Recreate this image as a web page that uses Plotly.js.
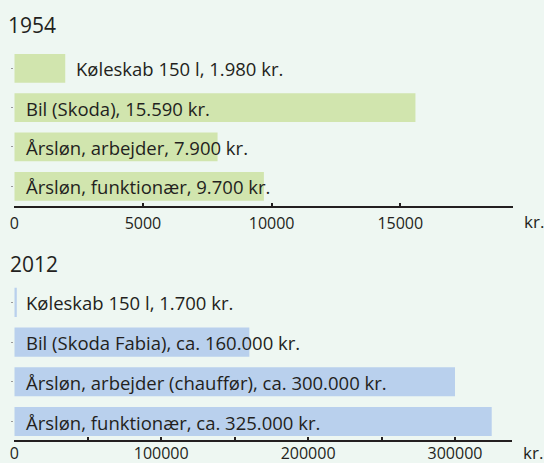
<!DOCTYPE html>
<html><head><meta charset="utf-8">
<script src="https://cdn.plot.ly/plotly-3.0.1.min.js"></script>
<style>html,body{margin:0;padding:0;background:#eef7f2}</style>
</head><body><div id="chart" style="width:544px;height:463px"></div>
<script>
const items1954 = ['Køleskab 150 l', 'Bil (Skoda)', 'Årsløn, arbejder', 'Årsløn, funktionær'];
const values1954 = [1980, 15590, 7900, 9700];
const labels1954 = ['Køleskab 150 l, 1.980 kr.', 'Bil (Skoda), 15.590 kr.', 'Årsløn, arbejder, 7.900 kr.', 'Årsløn, funktionær, 9.700 kr.'];
const labelAt1954 = ['end', 'start', 'start', 'start'];

const items2012 = ['Køleskab 150 l', 'Bil (Skoda Fabia)', 'Årsløn, arbejder (chauffør)', 'Årsløn, funktionær'];
const values2012 = [1700, 160000, 300000, 325000];
const labels2012 = ['Køleskab 150 l, 1.700 kr.', 'Bil (Skoda Fabia), ca. 160.000 kr.', 'Årsløn, arbejder (chauffør), ca. 300.000 kr.', 'Årsløn, funktionær, ca. 325.000 kr.'];
const labelAt2012 = ['start', 'start', 'start', 'start'];

const tickVals1954 = [0, 5000, 10000, 15000];
const tickText1954 = ['0', '5000', '10000', '15000'];
const axisMax1954 = 19370;

const tickVals2012 = [0, 50000, 100000, 150000, 200000, 250000, 300000];
const tickText2012 = ['0', '', '100000', '', '200000', '', '300000'];
const axisMax2012 = 339000;

const titles = ['1954', '2012'];
const unit = 'kr.';

const FONT = '"Open Sans", sans-serif';
const TXT = '#231f20';
const BG = '#eef7f2';
const LABEL_SIZE = 18.5;

const traces = [
  {type: 'bar', orientation: 'h', x: values1954, y: items1954, xaxis: 'x', yaxis: 'y',
   marker: {color: '#d1e5ae'}, width: 0.73, hoverinfo: 'skip'},
  {type: 'bar', orientation: 'h', x: values2012, y: items2012, xaxis: 'x2', yaxis: 'y2',
   marker: {color: '#b9d0ed'}, width: 0.73, hoverinfo: 'skip'}
];

function labelAnns(vals, labels, at, items, xr, yr) {
  return labels.map((t, i) => ({
    text: t, x: at[i] === 'end' ? vals[i] : 0, y: items[i], xref: xr, yref: yr,
    xanchor: 'left', yanchor: 'middle', showarrow: false,
    xshift: at[i] === 'end' ? 9 : 10, yshift: -0.5,
    font: {family: FONT, size: LABEL_SIZE, color: TXT}
  }));
}

const annotations = [
  ...labelAnns(values1954, labels1954, labelAt1954, items1954, 'x', 'y'),
  ...labelAnns(values2012, labels2012, labelAt2012, items2012, 'x2', 'y2'),
  {text: titles[0], xref: 'paper', yref: 'paper', x: 6 / 544, y: 1 - 24.5 / 463, xanchor: 'left', yanchor: 'middle',
   showarrow: false, font: {family: FONT, size: 21, color: TXT}},
  {text: titles[1], xref: 'paper', yref: 'paper', x: 8 / 544, y: 1 - 264 / 463, xanchor: 'left', yanchor: 'middle',
   showarrow: false, font: {family: FONT, size: 21, color: TXT}},
  {text: unit, xref: 'paper', yref: 'paper', x: 522 / 544, y: 1 - 221.5 / 463, xanchor: 'left', yanchor: 'middle',
   showarrow: false, font: {family: FONT, size: 17, color: TXT}},
  {text: unit, xref: 'paper', yref: 'paper', x: 521 / 544, y: 1 - 452.5 / 463, xanchor: 'left', yanchor: 'middle',
   showarrow: false, font: {family: FONT, size: 17, color: TXT}}
];

function xax(domain, max, vals, text, standoff) {
  return {
    domain: domain, range: [0, max], fixedrange: true,
    showgrid: false, zeroline: false, showline: true, linecolor: TXT, linewidth: 2,
    ticks: 'inside', ticklen: 3, tickwidth: 2, tickcolor: TXT,
    tickmode: 'array', tickvals: vals.concat([max]), ticktext: text.concat(['']),
    tickfont: {family: FONT, size: 16, color: TXT}, ticklabelstandoff: standoff
  };
}
function yax(domain, range) {
  return {
    domain: domain, range: range, type: 'category', fixedrange: true,
    showgrid: false, zeroline: false, showline: false,
    ticks: 'outside', ticklen: 2, tickwidth: 1, tickcolor: '#9a9a9a', showticklabels: false
  };
}

const layout = {
  width: 544, height: 463,
  margin: {l: 0, r: 0, t: 0, b: 0},
  paper_bgcolor: BG, plot_bgcolor: BG,
  showlegend: false,
  font: {family: FONT, color: TXT},
  xaxis: xax([14.3 / 544, 512.7 / 544], axisMax1954, tickVals1954, tickText1954, 2),
  yaxis: yax([1 - 206 / 463, 1 - 48.6 / 463], [3.5, -0.5]),
  xaxis2: Object.assign(xax([14.3 / 544, 512.3 / 544], axisMax2012, tickVals2012, tickText2012, -2), {anchor: 'y2'}),
  yaxis2: Object.assign(yax([1 - 439.5 / 463, 1 - 282.5 / 463], [3.45, -0.5]), {anchor: 'x2'}),
  annotations: annotations
};
layout.yaxis.anchor = 'x';
layout.xaxis.anchor = 'y';

Plotly.newPlot('chart', traces, layout, {staticPlot: true, displayModeBar: false});
</script>
</body></html>
